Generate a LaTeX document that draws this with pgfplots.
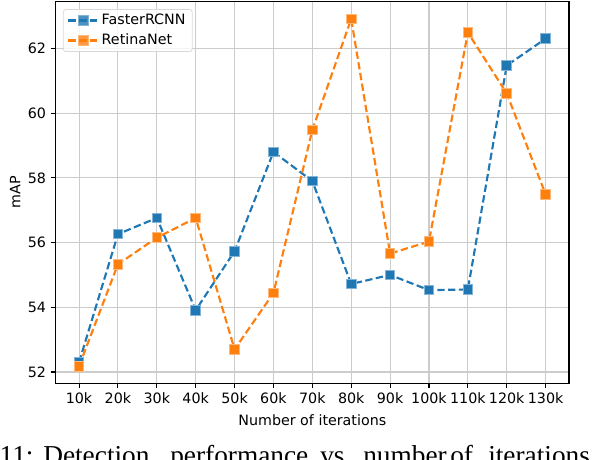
\documentclass[border=0pt]{standalone}
\usepackage{pgfplots}
\pgfplotsset{compat=1.18}
\usepackage{fontspec}
\setmainfont{DejaVu Sans}
\newfontfamily\capfont{Liberation Serif}
\definecolor{tabblue}{HTML}{1F77B4}
\definecolor{taborange}{HTML}{FF7F0E}
\pgfplotstableread{
x faster retina
10 52.30 52.18
20 56.26 55.33
30 56.76 56.15
40 53.91 56.76
50 55.73 52.70
60 58.80 54.44
70 57.90 59.48
80 54.72 62.91
90 55.00 55.66
100 54.53 56.03
110 54.55 62.49
120 61.47 60.61
130 62.30 57.49
}\datatable
\begin{document}
\raisebox{0pt}[345pt][0pt]{%
\begin{tikzpicture}[baseline=0pt, trim left=0pt, trim right=450pt, font=\fontsize{10.7}{12.5}\selectfont]
\clip (0,0) rectangle (450pt,345pt);
\begin{axis}[
  at={(41.8pt,57.5pt)}, anchor=south west,
  scale only axis, width=384.9pt, height=286.4pt,
  xmin=4, xmax=136, ymin=51.65, ymax=63.45,
  xtick={10,20,...,130},
  xticklabels={10k,20k,30k,40k,50k,60k,70k,80k,90k,100k,110k,120k,130k},
  ytick={52,54,...,62},
  /pgf/number format/assume math mode=true,
  tick pos=left, tick align=outside,
  major tick length=3.75pt,
  every tick/.style={black, line width=0.8pt},
  axis line style={line width=0.9pt},
  grid=major,
  major grid style={gray!40, line width=0.8pt},
  xlabel={Number of iterations},
  ylabel={mAP},
  xlabel style={at={(axis description cs:0.5,-0.096)}, anchor=center},
  ylabel style={at={(axis description cs:-0.0792,0.5)}, anchor=center},
  legend cell align=left,
  legend style={at={(0.014,0.98)}, anchor=north west, draw=gray!30, line width=0.6pt,
    rounded corners=2pt, fill=white, fill opacity=0.8, text opacity=1, draw opacity=1,
    inner xsep=3pt, inner ysep=1.5pt, row sep=1.5pt,
    font=\fontsize{10.7}{12.5}\selectfont},
  legend image code/.code={
    \draw[mark repeat=2, mark phase=2] plot coordinates {(0cm,0cm) (0.39cm,0cm) (0.78cm,0cm)};
  },
]
\addplot[tabblue, line width=1.6pt, dash pattern=on 5.5pt off 2.6pt,
  mark=square*, mark size=3.6pt,
  mark options={solid, fill=tabblue, draw=tabblue!55!white, line width=0.7pt}]
  table[x=x, y=faster] {\datatable};
\addlegendentry{FasterRCNN}
\addplot[taborange, line width=1.6pt, dash pattern=on 5.5pt off 2.6pt,
  mark=square*, mark size=3.6pt,
  mark options={solid, fill=taborange, draw=taborange!55!white, line width=0.7pt}]
  table[x=x, y=retina] {\datatable};
\addlegendentry{RetinaNet}
\end{axis}
\begin{scope}[font=\capfont\fontsize{20.5}{24}\selectfont]
\node[anchor=base west, inner sep=0pt] at (-0.5pt,-3.3pt) {11:};
\node[anchor=base west, inner sep=0pt] at (32.25pt,-3.3pt) {Detection};
\node[anchor=base west, inner sep=0pt] at (127.5pt,-3.3pt) {performance};
\node[anchor=base west, inner sep=0pt] at (240pt,-3.3pt) {vs};
\node[anchor=base west, inner sep=0pt] at (272.25pt,-3.3pt) {number};
\node[anchor=base west, inner sep=0pt] at (337.5pt,-3.3pt) {of};
\node[anchor=base west, inner sep=0pt] at (366pt,-3.3pt) {iterations};
\end{scope}
\end{tikzpicture}}
\end{document}
